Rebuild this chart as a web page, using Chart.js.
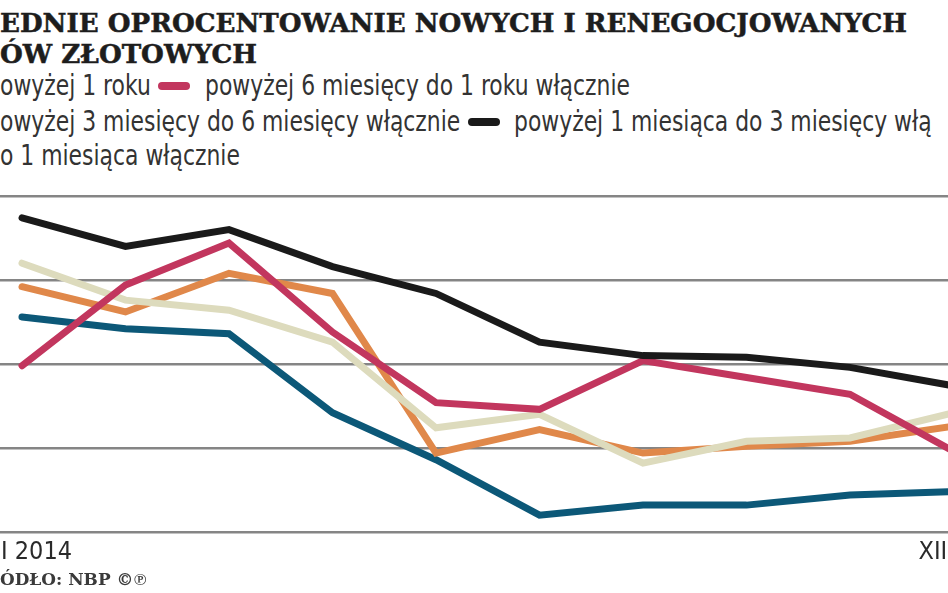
<!DOCTYPE html>
<html>
<head>
<meta charset="utf-8">
<script src="https://cdn.jsdelivr.net/npm/chart.js@4.4.1/dist/chart.umd.min.js"></script>
<style>
html,body{margin:0;padding:0;background:#fff;}
body{width:948px;height:593px;overflow:hidden;position:relative;}
.t{position:absolute;left:0;top:0;white-space:nowrap;transform-origin:0 0;line-height:1;}
.title{font-family:"DejaVu Serif",serif;font-weight:bold;font-size:26.5px;color:#1d1d1d;-webkit-text-stroke:0.5px #1d1d1d;}
.leg{font-family:"Liberation Sans Narrow","DejaVu Sans Condensed",sans-serif;font-size:29px;color:#333;}
.src{font-family:"DejaVu Serif",serif;font-weight:bold;font-size:17px;color:#3a3a3a;}
.sw{position:absolute;height:8px;border-radius:4px;}
#wrap{position:absolute;left:0;top:186px;width:948px;height:407px;}
</style>
</head>
<body>
<div id="wrap"><canvas id="c" width="948" height="407"></canvas></div>
<script>
// ---- data ----
const seriesNames = [
  'powyżej 1 roku',
  'powyżej 6 miesięcy do 1 roku włącznie',
  'powyżej 3 miesięcy do 6 miesięcy włącznie',
  'powyżej 1 miesiąca do 3 miesięcy włącznie',
  'do 1 miesiąca włącznie'
];
const seriesColors = ['#dddbbd', '#c2365e', '#e0884a', '#1a1a1a', '#0c5878'];
const over1y   = [3.10, 2.88, 2.82, 2.63, 2.12, 2.20, 1.91, 2.04, 2.06, 2.21];
const m6to12   = [2.49, 2.97, 3.22, 2.69, 2.27, 2.23, 2.52, 2.42, 2.32, 1.98];
const m3to6    = [2.96, 2.81, 3.04, 2.92, 1.97, 2.11, 1.97, 2.01, 2.04, 2.13];
const m1to3    = [3.37, 3.20, 3.30, 3.08, 2.92, 2.63, 2.55, 2.54, 2.48, 2.37];
const upTo1m   = [2.78, 2.71, 2.68, 2.21, 1.93, 1.60, 1.66, 1.66, 1.72, 1.74];
const seriesValues = [over1y, m6to12, m3to6, m1to3, upTo1m];
const drawOrder = [3, 2, 4, 1, 5];
const xTickLabels = ['I 2014', 'XII'];
const yMin = 1.5, yMax = 3.5, yStep = 0.5;

const titleLines = ['EDNIE OPROCENTOWANIE NOWYCH I RENEGOCJOWANYCH', 'ÓW ZŁOTOWYCH'];
const legendRows = [
  [{text:'owyżej 1 roku', series:0, swatch:false}, {text:'powyżej 6 miesięcy do 1 roku włącznie', series:1, swatch:true}],
  [{text:'owyżej 3 miesięcy do 6 miesięcy włącznie', series:2, swatch:false}, {text:'powyżej 1 miesiąca do 3 miesięcy włą', series:3, swatch:true}],
  [{text:'o 1 miesiąca włącznie', series:4, swatch:false}]
];
const sourceText = 'ÓDŁO: NBP ©℗';

// ---- layout helpers ----
function baselineOffset(el){
  const m = document.createElement('span');
  m.style.display='inline-block'; m.style.width='0'; m.style.height='0'; m.style.verticalAlign='baseline';
  el.appendChild(m);
  const off = m.offsetTop;
  el.removeChild(m);
  return off;
}
function place(cls, text, x, baseline){
  const d = document.createElement('div');
  d.className = 't ' + cls;
  d.textContent = text;
  document.body.appendChild(d);
  const b = baselineOffset(d);
  d.style.left = x + 'px';
  d.style.top = (baseline - b) + 'px';
  return d;
}
function fitScale(el, target){
  const w = el.getBoundingClientRect().width;
  return target / w;
}
function setScale(el, s){ el.style.transform = 'scaleX(' + s + ')'; }

// title
const t1 = place('title', titleLines[0], 0, 32);
const t2 = place('title', titleLines[1], 0, 63);
const ts = fitScale(t1, 907);
setScale(t1, ts); setScale(t2, ts);

// legend
const rowBase = [95, 131, 165];
const itemX = [[0, 205], [0, 514], [0]];
const swX = [[null, 158], [null, 468]];
let legScale = null;
legendRows.forEach((row, r) => {
  row.forEach((it, k) => {
    const el = place('leg', it.text, itemX[r][k], rowBase[r]);
    if (legScale === null && r === 0 && k === 1) legScale = fitScale(el, 425);
    if (it.swatch) {
      const s = document.createElement('div');
      s.className = 'sw';
      s.style.background = seriesColors[it.series];
      s.style.left = swX[r][k] + 'px';
      s.style.width = '32px';
      s.style.top = (rowBase[r] - 13) + 'px';
      document.body.appendChild(s);
    }
  });
});
document.querySelectorAll('.leg').forEach(el => setScale(el, legScale));

// source
const srcEl = place('src', sourceText, 0, 585);
setScale(srcEl, fitScale(srcEl, 146));

// ---- chart ----
const xLabelPlugin = {
  id: 'xLabels',
  afterDraw(chart){
    const c = chart.ctx, xs = chart.scales.x, area = chart.chartArea;
    c.save();
    c.fillStyle = '#2a2a2a';
    c.font = '25px "Liberation Sans Narrow", "DejaVu Sans Condensed", sans-serif';
    c.textBaseline = 'alphabetic';
    c.textAlign = 'left';
    const yb = area.bottom + 27;
    c.fillText(xTickLabels[0], area.left + 1, yb);
    c.fillText(xTickLabels[1], xs.getPixelForValue(seriesValues[0].length - 1) - 35, yb);
    c.restore();
  }
};

const datasets = seriesValues.map((vals, i) => ({
  label: seriesNames[i],
  data: vals.map((v, j) => ({x: j, y: v})),
  borderColor: seriesColors[i],
  backgroundColor: seriesColors[i],
  borderWidth: 7,
  pointRadius: 0,
  tension: 0,
  fill: false,
  borderCapStyle: 'round',
  borderJoinStyle: 'miter',
  order: drawOrder[i]
}));

new Chart(document.getElementById('c'), {
  type: 'line',
  data: { datasets },
  options: {
    responsive: false,
    animation: false,
    devicePixelRatio: 1,
    layout: { padding: { top: 10, bottom: 61, left: 0, right: 0 } },
    plugins: { legend: { display: false }, tooltip: { enabled: false }, title: { display: false } },
    scales: {
      x: { type: 'linear', display: false, min: -22 / 103.5, max: 926 / 103.5 },
      y: {
        min: yMin, max: yMax,
        ticks: { display: false, stepSize: yStep },
        grid: { color: '#858585', lineWidth: 2.5, drawTicks: false },
        border: { display: false }
      }
    }
  },
  plugins: [xLabelPlugin]
});
</script>
</body>
</html>
